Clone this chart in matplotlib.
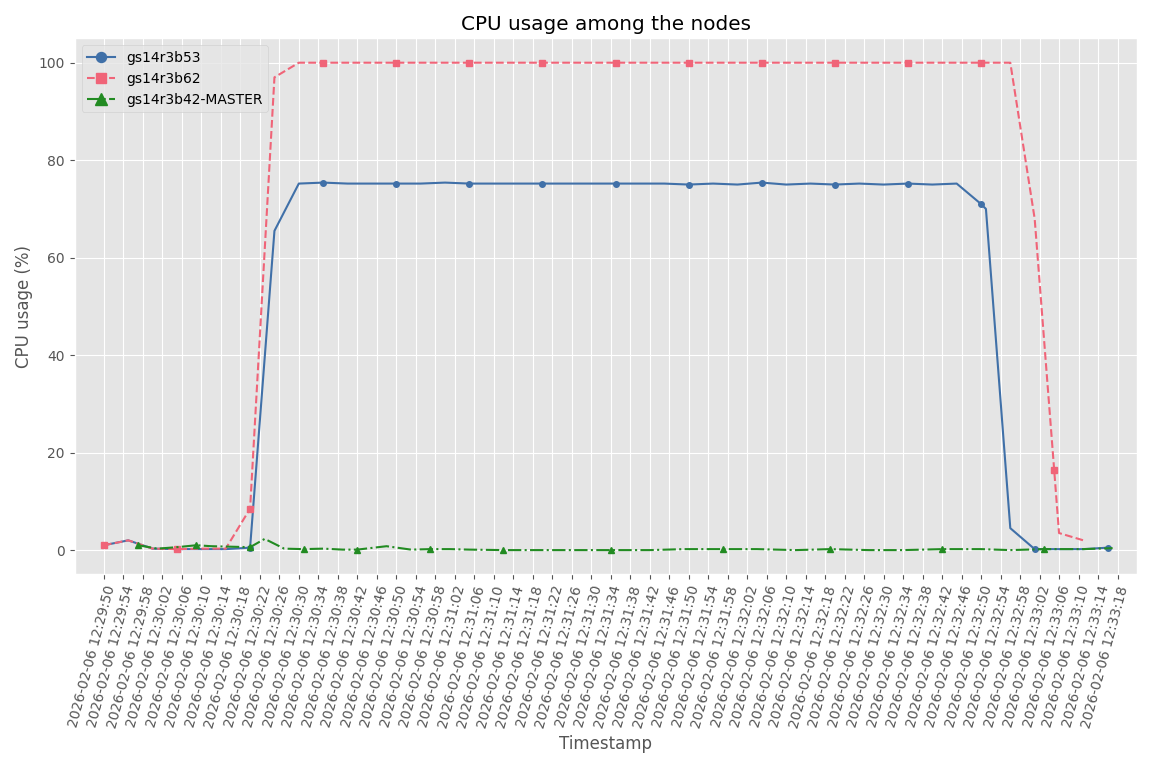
import pandas as pd
import matplotlib
matplotlib.use("Agg")
import matplotlib.pyplot as plt
import matplotlib.dates as mdates

plt.style.use("ggplot")

start = pd.Timestamp("2026-02-06 12:29:50")

# seconds after start and CPU values per node
b53_sec = [0, 5, 10, 15, 20, 25, 30, 35, 40, 45, 50, 55, 60, 65, 70, 75, 80, 85, 90, 95,
           100, 105, 110, 115, 120, 125, 130, 135, 140, 145, 150, 155, 160, 165, 170, 175,
           180, 181, 186, 191, 196, 201, 206]
b53_val = [1.0, 2.0, 0.3, 0.2, 0.2, 0.2, 0.5, 65.5, 75.2, 75.4, 75.2, 75.2, 75.2, 75.2, 75.4,
           75.2, 75.2, 75.2, 75.2, 75.2, 75.2, 75.2, 75.2, 75.2, 75.0, 75.2, 75.0, 75.4, 75.0,
           75.2, 75.0, 75.2, 75.0, 75.2, 75.0, 75.2, 71.0, 70.0, 4.5, 0.2, 0.2, 0.2, 0.5]

b62_sec = [0, 5, 10, 15, 20, 25, 30, 35, 40, 45, 50, 55, 60, 65, 70, 75, 80, 85, 90, 95,
           100, 105, 110, 115, 120, 125, 130, 135, 140, 145, 150, 155, 160, 165, 170, 175,
           180, 186, 191, 195, 196, 201]
b62_val = [1.0, 2.0, 0.3, 0.2, 0.3, 0.3, 8.5, 97.0] + [100.0] * 30 + [68.0, 16.5, 3.5, 2.0]

b42_sec = [7, 11, 15, 19, 22, 26, 30, 33, 37, 41, 45, 49, 52, 58, 63, 67, 71, 75, 82, 89,
           97, 104, 112, 119, 127, 134, 142, 149, 157, 164, 172, 180, 186, 193, 201, 207]
b42_val = [1.0, 0.3, 0.6, 1.0, 0.8, 0.7, 0.6, 2.3, 0.3, 0.2, 0.3, 0.1, 0.1, 0.8, 0.1, 0.2,
           0.2, 0.1, 0.0, 0.0, 0.0, 0.0, 0.0, 0.2, 0.2, 0.2, 0.0, 0.2, 0.0, 0.0, 0.2, 0.2,
           0.0, 0.2, 0.2, 0.4]

def to_time(secs):
    return [start + pd.Timedelta(seconds=s) for s in secs]

fig, ax = plt.subplots(figsize=(11.52, 7.68), dpi=100)
ax.plot(to_time(b53_sec), b53_val, color="#4070a8", marker="o", markersize=4,
        markevery=3, linestyle="-", label="gs14r3b53")
ax.plot(to_time(b62_sec), b62_val, color="#f06478", marker="s", markersize=4,
        markevery=3, linestyle="--", label="gs14r3b62")
ax.plot(to_time(b42_sec), b42_val, color="#228b22", marker="^", markersize=5,
        markevery=3, linestyle="-.", label="gs14r3b42-MASTER")

ticks = pd.date_range(start, start + pd.Timedelta(seconds=208), freq="4s")
ax.set_xticks(ticks)
ax.xaxis.set_major_formatter(mdates.DateFormatter("%Y-%m-%d %H:%M:%S"))
plt.setp(ax.get_xticklabels(), rotation=75, ha="right", rotation_mode="anchor")
ax.set_xlim(start - pd.Timedelta(seconds=6), start + pd.Timedelta(seconds=212))

ax.set_xlabel("Timestamp")
ax.set_ylabel("CPU usage (%)")
ax.set_title("CPU usage among the nodes")
leg = ax.legend(loc="upper left", markerscale=1.8)
plt.tight_layout()
plt.savefig("out.png")
